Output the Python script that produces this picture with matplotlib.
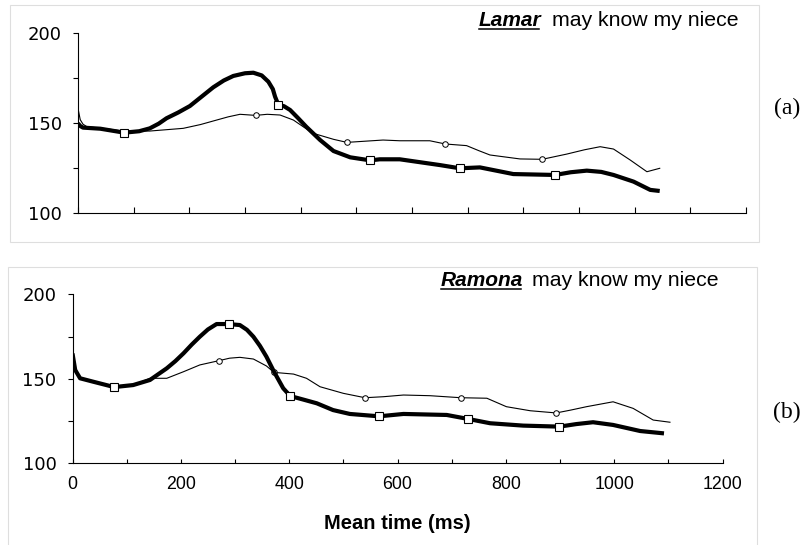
"""pitch contours for two sentences, thick = one condition, thin = other"""

import matplotlib.pyplot as plt
from matplotlib.patches import Rectangle
from matplotlib.lines import Line2D

# panel (a): Lamar may know my niece
a_thick_ms = [0, 4, 9, 40, 83, 110, 129, 145, 159, 180, 201, 222, 243, 262, 279, 300, 315, 330,
              342, 350, 354, 360, 370, 381, 395, 410, 435, 459, 489, 525, 542, 578, 650, 686,
              722, 782, 857, 885, 914, 940, 962, 998, 1028, 1045]
a_thick_f0 = [150, 148.5, 147.6, 147, 144.8, 145.6, 147.2, 149.8, 152.8, 156, 159.6, 164.8, 170,
              173.8, 176.3, 177.8, 178.1, 176.6, 173.1, 169, 164.8, 160.2, 159.5, 157.4, 153,
              148.1, 140.7, 134.6, 131.1, 129.4, 130, 130, 126.8, 125, 125.5, 121.8, 121.3,
              122.8, 123.7, 123, 121.3, 117.6, 113, 112.4]
a_thick_marks = [4, 21, 29, 33, 36]

a_thin_ms = [0, 4, 9, 16, 50, 83, 129, 189, 220, 249, 270, 291, 319, 340, 363, 387, 405, 423,
             459, 483, 548, 578, 632, 660, 698, 720, 740, 794, 834, 878, 910, 938, 962, 992,
             1022, 1045]
a_thin_f0 = [158.3, 152, 149.5, 148.1, 147, 145.6, 145.7, 147.2, 149.3, 151.8, 153.6, 155, 154.4,
             155, 154.6, 151.8, 148, 144.4, 141.1, 139.4, 140.7, 140.3, 140.3, 138.5, 137.6,
             134.8, 132.4, 130.2, 130, 132.9, 135.3, 137, 135.7, 129.6, 123.1, 125]
a_thin_marks = [12, 19, 23, 28]

# panel (b): Ramona may know my niece
b_thick_ms = [0, 5, 14, 38, 77, 112, 143, 174, 190, 205, 220, 235, 250, 266, 288, 309, 322, 334,
              346, 358, 372, 389, 402, 425, 451, 481, 512, 566, 611, 691, 731, 771, 832, 899,
              930, 961, 998, 1048, 1092]
b_thick_f0 = [165, 155.2, 150.3, 148.3, 145.1, 146.3, 149.3, 156.2, 160.5, 165.1, 170.2, 174.9,
              179.2, 182.4, 182.4, 181.8, 179, 174.9, 169.5, 163.1, 154.2, 144.4, 139.8, 137.8,
              135.5, 131.5, 129.2, 127.8, 129.2, 128.6, 126.2, 123.7, 122.3, 121.7, 123.2,
              124.3, 122.7, 119.1, 117.7]
b_thick_marks = [4, 14, 22, 27, 30, 33]

b_thin_ms = [0, 5, 14, 38, 77, 112, 143, 174, 205, 235, 270, 290, 309, 334, 358, 372, 408, 432,
             457, 500, 540, 574, 611, 660, 717, 765, 801, 845, 893, 920, 949, 998, 1035, 1072,
             1103]
b_thin_f0 = [165, 155.2, 150.3, 148.3, 145.5, 146.3, 150.3, 150.3, 154.2, 158.2, 160.7, 162.2,
             162.7, 161.7, 157.6, 153.8, 152.8, 150.3, 145.3, 141.4, 138.8, 139.4, 140.4, 140,
             138.8, 138.5, 133.5, 131.1, 129.8, 131.5, 133.5, 136.4, 132.5, 125.6, 124.3]
b_thin_marks = [10, 15, 20, 24, 28]

x_major = [0, 200, 400, 600, 800, 1000, 1200]
x_minor = [100, 300, 500, 700, 900, 1100]
y_major = [100, 150, 200]
y_minor = [125, 175]

W, H = 808, 545
fig = plt.figure(figsize=(W / 100, H / 100), dpi=100)


def px(x0, y0, x1, y1):
    """pixel box (top-left origin) -> figure rect"""
    return [x0 / W, 1 - y1 / H, (x1 - x0) / W, (y1 - y0) / H]


# light panel frames
fig.add_artist(Rectangle((10 / W, 1 - 242 / H), 749 / W, 237 / H, transform=fig.transFigure,
                         fill=False, ec='#dedede', lw=0.8))
fig.add_artist(Rectangle((8 / W, -0.01), 749 / W, 1 - 267 / H + 0.01, transform=fig.transFigure,
                         fill=False, ec='#dedede', lw=0.8))

ax_a = fig.add_axes(px(78, 33.3, 746, 213.3))
ax_b = fig.add_axes(px(72.5, 294.3, 722.5, 463.3))


def draw_panel(ax, thick_x, thick_y, thick_m, thin_x, thin_y, thin_m, xlabels, tlen):
    ax.plot(thin_x, thin_y, color='black', lw=0.8, marker='o', markersize=4,
            markerfacecolor='white', markeredgewidth=0.7, markevery=thin_m, zorder=3)
    ax.plot(thick_x, thick_y, color='black', lw=3.0, marker='s', markersize=6,
            markerfacecolor='white', markeredgewidth=0.8, markevery=thick_m, zorder=4,
            solid_capstyle='butt', solid_joinstyle='round')
    ax.set_xlim(0, 1200)
    ax.set_ylim(100, 200)
    for s in ['top', 'right']:
        ax.spines[s].set_visible(False)
    for s in ['left', 'bottom']:
        ax.spines[s].set_linewidth(0.8)
    ax.set_yticks(y_major)
    ax.set_yticks(y_minor, minor=True)
    ax.set_xticks(x_major)
    ax.set_xticks(x_minor, minor=True)
    ax.tick_params(axis='y', which='both', direction='out', length=3.6, width=0.8, pad=8,
                   labelsize=13)
    ax.tick_params(axis='x', which='both', direction='in', length=tlen, width=0.8, pad=9,
                   labelsize=12.8, labelbottom=xlabels)
    for lab in ax.get_yticklabels():
        lab.set_family('DejaVu Sans')
    for lab in ax.get_xticklabels():
        lab.set_family('Liberation Sans')


draw_panel(ax_a, a_thick_ms, a_thick_f0, a_thick_marks, a_thin_ms, a_thin_f0, a_thin_marks,
           False, 4.3)
draw_panel(ax_b, b_thick_ms, b_thick_f0, b_thick_marks, b_thin_ms, b_thin_f0, b_thin_marks,
           True, 3.0)
ax_b.set_xlabel('Mean time (ms)', family='Liberation Sans', fontweight='bold', fontsize=14.5,
                labelpad=15)

fig.text(787 / W, 1 - 108 / H, '(a)', family='Liberation Serif', fontsize=17,
         ha='center', va='center')
fig.text(787 / W, 1 - 412 / H, '(b)', family='Liberation Serif', fontsize=17,
         ha='center', va='center')

# sentence captions, name in bold italic and underlined
captions = [('Lamar', 739, 26, 11), ('Ramona', 719, 286.5, 9)]
rest_texts = []
for name, right, base, gap in captions:
    t = fig.text(right / W, 1 - base / H, 'may know my niece', family='Liberation Sans',
                 fontsize=15.3, ha='right', va='baseline')
    rest_texts.append((t, name, base, gap))

fig.canvas.draw()
rend = fig.canvas.get_renderer()
for t, name, base, gap in rest_texts:
    bb = t.get_window_extent(rend)
    nt = fig.text((bb.x0 - gap) / W, 1 - base / H, name, family='Liberation Sans',
                  fontsize=15, fontweight='bold', fontstyle='italic', ha='right', va='baseline')
    nb = nt.get_window_extent(rend)
    uy = (H - base - 2.5) / H
    fig.add_artist(Line2D([nb.x0 / W, (nb.x1 - 2) / W], [uy, uy], transform=fig.transFigure,
                          color='black', lw=1.1))

fig.savefig('out.png', dpi=100)
